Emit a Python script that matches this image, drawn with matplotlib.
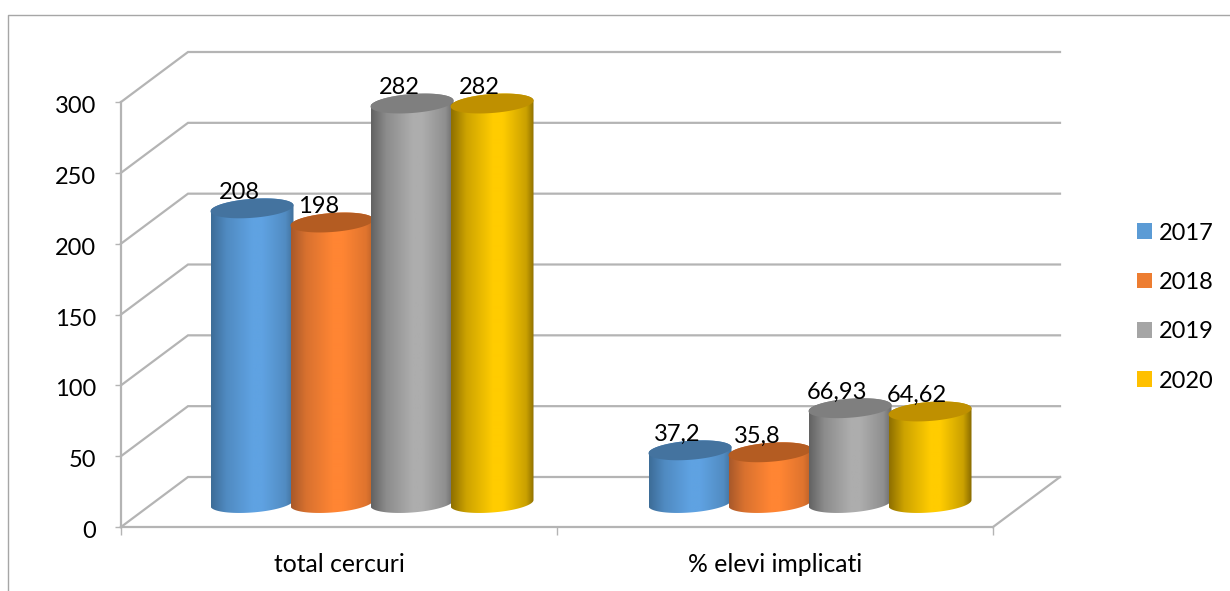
import numpy as np
import matplotlib
matplotlib.use("Agg")
import matplotlib.pyplot as plt
from matplotlib.patches import Patch, Polygon
from matplotlib.colors import to_rgb
from matplotlib.lines import Line2D
from matplotlib.transforms import ScaledTranslation

plt.rcParams['font.family'] = ['Lato', 'DejaVu Sans']

categories = ['total cercuri', '% elevi implicati']
years = ['2017', '2018', '2019', '2020']
values_2017 = [208, 37.2]
values_2018 = [198, 35.8]
values_2019 = [282, 66.93]
values_2020 = [282, 64.62]
labels_2017 = ['208', '37,2']
labels_2018 = ['198', '35,8']
labels_2019 = ['282', '66,93']
labels_2020 = ['282', '64,62']
y_ticks = [0, 50, 100, 150, 200, 250, 300]

series = [values_2017, values_2018, values_2019, values_2020]
series_labels = [labels_2017, labels_2018, labels_2019, labels_2020]

W, H = 1230, 591
fig = plt.figure(figsize=(W / 100, H / 100), dpi=100)
ax = fig.add_axes([121 / W, (H - 527) / H, 872 / W, 425 / H])
fig.add_artist(Line2D([8 / W, 8 / W, 1], [0, (H - 14.5) / H, (H - 14.5) / H],
                      color='#a6a6a6', lw=1.0, transform=fig.transFigure))

px_x = 2 / 872          # data units per pixel, horizontally
px_y = 300 / 425        # data units per pixel, vertically
dx, dy = 67 * px_x, 50 * px_y   # depth of the box
grid_c = '#b4b4b4'

for v in y_ticks:
    ax.plot([0, dx, 2 + dx], [v, v + dy, v + dy], color=grid_c, lw=1.6,
            clip_on=False, zorder=1, solid_joinstyle='miter')
ax.plot([2, 2 + dx], [0, dy], color=grid_c, lw=1.6, clip_on=False, zorder=1)

styles = [
    dict(edge='#3d6d98', mid='#5fa2e2', top='#44739f', right='#41719c'),
    dict(edge='#a9592a', mid='#ff8533', top='#b45c22', right='#b85f28'),
    dict(edge='#636363', mid='#adadad', top='#7f7f7f', right='#6b6b6b'),
    dict(edge='#8f7000', mid='#ffcc00', top='#bf9000', right='#8a6c00'),
]
legend_colors = ['#5b9bd5', '#ed7d31', '#a5a5a5', '#ffc000']

a = 41.5 * px_x
b = 9.5 * px_y
tilt = 3.0 * px_y
spacing = 80 * px_x
base_y = 24 * px_y      # cylinder base sits this far into the depth
group_shift = [33 * px_x, 35 * px_x]
t = np.linspace(0, 2 * np.pi, 181)


def ellipse(cx, cy, angles):
    return np.column_stack([cx + a * np.cos(angles),
                            cy + b * np.sin(angles) + tilt * np.cos(angles)])


z = 3
for s, (vals, labs, st) in enumerate(zip(series, series_labels, styles)):
    for c in range(len(categories)):
        cx = c + 0.5 + group_shift[c] + (s - 1.5) * spacing
        y0 = base_y
        y1 = base_y + vals[c]
        lower = ellipse(cx, y0, np.linspace(np.pi, 2 * np.pi, 91))
        upper = ellipse(cx, y1, np.linspace(0, np.pi, 91))
        poly = Polygon(np.vstack([lower, upper]), closed=True, facecolor='none',
                       edgecolor='none', transform=ax.transData, clip_on=False)
        ax.add_patch(poly)
        stops = np.array([0, 0.18, 0.5, 0.62, 0.9, 1.0])
        cols = np.array([to_rgb(st['edge']),
                         (np.array(to_rgb(st['edge'])) * 0.45 + np.array(to_rgb(st['mid'])) * 0.55),
                         to_rgb(st['mid']), to_rgb(st['mid']),
                         (np.array(to_rgb(st['right'])) * 0.45 + np.array(to_rgb(st['mid'])) * 0.55),
                         to_rgb(st['right'])])
        u = np.linspace(0, 1, 84)
        grad = np.stack([np.interp(u, stops, cols[:, k]) for k in range(3)], axis=1)[None, :, :]
        im = ax.imshow(grad, extent=[cx - a, cx + a, y0 - 20 * px_y, y1 + 20 * px_y],
                       aspect='auto', interpolation='bilinear', zorder=z)
        im.set_clip_path(poly)
        im.set_clip_box(fig.bbox)
        ax.add_patch(Polygon(ellipse(cx, y1, t), closed=True, facecolor=st['top'],
                             edgecolor='none', zorder=z + 0.1, clip_on=False))
        ax.annotate(labs[c], (cx, y1), xytext=(-13 * 0.72, 16 * 0.72),
                    textcoords='offset points', ha='center', va='center',
                    fontsize=17, color='black', zorder=20, annotation_clip=False)
    z += 1

ax.set_xlim(0, 2)
ax.set_ylim(0, 300)
ax.patch.set_alpha(0)
for side in ('top', 'right'):
    ax.spines[side].set_visible(False)
for side in ('left', 'bottom'):
    ax.spines[side].set_color(grid_c)
    ax.spines[side].set_linewidth(1.6)
    ax.spines[side].set_zorder(2)

ax.set_yticks(y_ticks)
ax.set_yticklabels([str(v) for v in y_ticks], fontsize=17)
ax.tick_params(axis='y', length=4, width=1, color=grid_c, pad=14)
shift = ScaledTranslation(0, -2.5 / 72 * 0.72 * 1.0, fig.dpi_scale_trans)
for lab in ax.get_yticklabels():
    lab.set_transform(lab.get_transform() + shift)
ax.set_xticks([0, 1, 2])
ax.set_xticklabels([])
ax.tick_params(axis='x', which='major', length=6, width=1, color=grid_c)
ax.set_xticks([0.5, 1.5], minor=True)
ax.set_xticklabels(categories, minor=True, fontsize=17.8)
ax.tick_params(axis='x', which='minor', length=0, pad=18.5)

handles = [Patch(facecolor=col, edgecolor='none') for col in legend_colors]
fig.legend(handles, years, loc='center left', bbox_to_anchor=(1130 / W, (H - 307) / H),
           frameon=False, fontsize=17, handlelength=0.64, handleheight=0.64,
           handletextpad=0.3, labelspacing=1.2, borderpad=0.3, borderaxespad=0)

fig.savefig('out.png', dpi=100, facecolor='white')
